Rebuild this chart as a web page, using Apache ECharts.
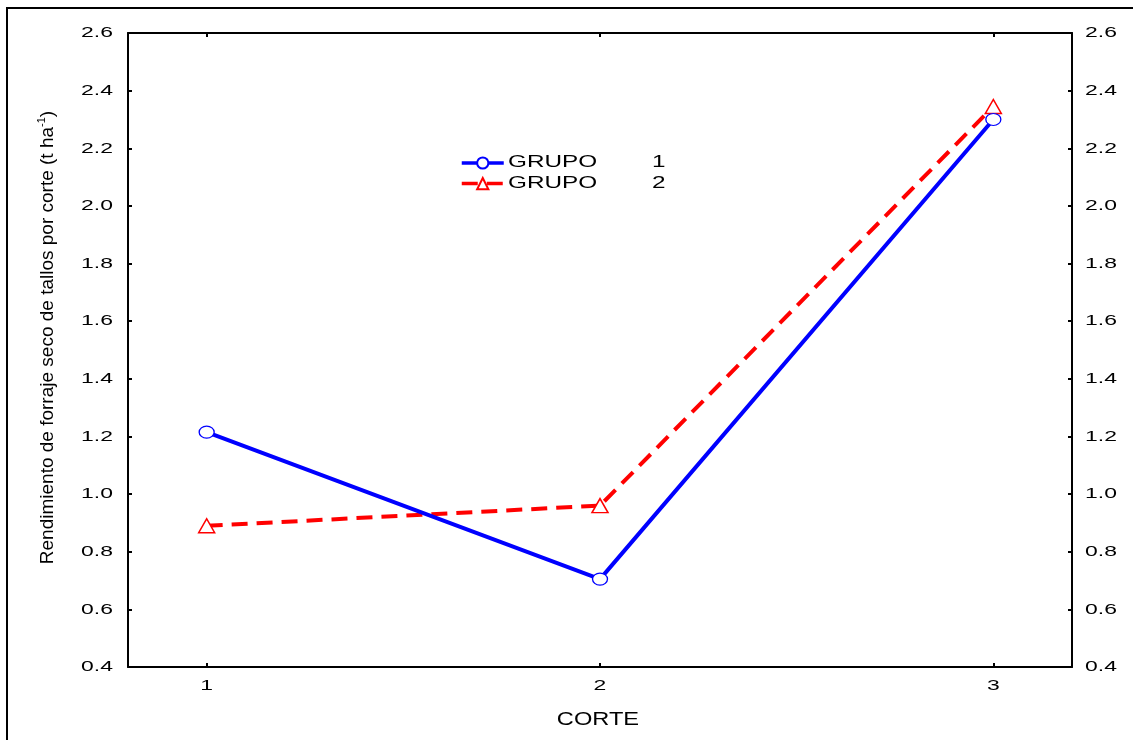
<!DOCTYPE html>
<html>
<head>
<meta charset="utf-8">
<script src="https://cdn.jsdelivr.net/npm/echarts@6/dist/echarts.min.js"></script>
<style>
  html, body { margin: 0; padding: 0; background: #fff; }
  #chart { width: 1133px; height: 740px; }
</style>
</head>
<body>
<div id="chart"></div>
<script>
// data
var cortes = [1, 2, 3];
var grupo1 = [1.215, 0.705, 2.30];
var grupo2 = [0.89, 0.96, 2.345];
var yTicks = [0.4, 0.6, 0.8, 1.0, 1.2, 1.4, 1.6, 1.8, 2.0, 2.2, 2.4, 2.6];
var seriesNames = ['GRUPO 1', 'GRUPO 2'];

function pairs(xs, ys) {
    return xs.map(function (x, i) { return [x, ys[i]]; });
}

var font = 'Liberation Sans, Arial, sans-serif';
var myChart = echarts.init(document.getElementById('chart'));

//shared settings for the x axes (bottom + top), labels are drawn later (stretched text)
function xAx(pos) {
    return {
        type: 'value',
        position: pos,
        min: 0.8,
        max: 3.2,
        axisLine: { show: true, onZero: false, lineStyle: { color: '#000', width: 2 } },
        axisTick: { show: true, inside: true, length: 4, customValues: cortes, lineStyle: { color: '#000', width: 2 } },
        axisLabel: { show: false },
        splitLine: { show: false }
    };
}
function yAx(pos) {
    return {
        type: 'value',
        position: pos,
        min: 0.4,
        max: 2.6,
        interval: 0.2,
        axisLine: { show: true, lineStyle: { color: '#000', width: 2 } },
        axisTick: { show: true, inside: true, length: 4, lineStyle: { color: '#000', width: 2 } },
        axisLabel: { show: false },
        splitLine: { show: false }
    };
}

var yLeft = yAx('left');
yLeft.name = '{a|Rendimiento de forraje seco de tallos por corte (t ha}{s|-1}{a|)}';
yLeft.nameLocation = 'middle';
yLeft.nameGap = 69;
yLeft.nameRotate = 90;
yLeft.nameTextStyle = {
    rich: {
        a: { color: '#000', fontFamily: font, fontSize: 19 },
        s: { color: '#000', fontFamily: font, fontSize: 11, padding: [0, 0, 12, 0] }
    },
    padding: [0, 0, 0, 25]
};

var frame = {
    type: 'rect',
    shape: { x: 7, y: 8, width: 1140, height: 740 },
    style: { fill: 'none', stroke: '#000', lineWidth: 2 },
    silent: true
};

myChart.setOption({
    animation: false,
    graphic: [frame],
    grid: { left: 128, right: 61, top: 33, bottom: 73 },
    legend: {
        left: 455,
        top: 151,
        orient: 'vertical',
        itemWidth: 42,
        itemHeight: 14,
        itemGap: 7,
        lineStyle: { width: 3.5 },
        formatter: function () { return ''; }
    },
    xAxis: [xAx('bottom'), xAx('top')],
    yAxis: [yLeft, yAx('right')],
    series: [
        {
            name: seriesNames[0],
            type: 'line',
            data: pairs(cortes, grupo1),
            symbol: 'circle',
            symbolSize: [15, 12],
            itemStyle: { color: '#fff', borderColor: '#0000ff', borderWidth: 1.2 },
            lineStyle: { color: '#0000ff', width: 4 },
            z: 3
        },
        {
            name: seriesNames[1],
            type: 'line',
            data: pairs(cortes, grupo2),
            symbol: 'triangle',
            symbolSize: [16, 14],
            itemStyle: { color: '#fff', borderColor: '#ff0000', borderWidth: 1.5 },
            lineStyle: { color: '#ff0000', width: 4, type: [16, 9] },
            z: 2
        }
    ]
});

//the original's horizontal text is stretched sideways, so draw it as scaled text
function txt(s, x, y, align, size, sx) {
    return {
        type: 'text', x: x, y: y, scaleX: sx, silent: true,
        style: { text: s, align: align, verticalAlign: 'middle', fill: '#000', font: size + 'px ' + font }
    };
}
var labels = [frame];
yTicks.forEach(function (v) {
    var py = myChart.convertToPixel({ yAxisIndex: 0 }, v);
    labels.push(txt(v.toFixed(1), 113, py, 'right', 15.5, 1.48));
    labels.push(txt(v.toFixed(1), 1085, py, 'left', 15.5, 1.48));
});
cortes.forEach(function (c) {
    var px = myChart.convertToPixel({ xAxisIndex: 0 }, c);
    labels.push(txt(String(c), px, 686, 'center', 15.5, 1.48));
});
labels.push(txt('CORTE', 598, 720, 'center', 17.5, 1.35));
seriesNames.forEach(function (n, i) {
    var parts = n.split(' ');
    labels.push(txt(parts[0], 508, 162 + i * 21, 'left', 17, 1.43));
    labels.push(txt(parts[1], 652, 162 + i * 21, 'left', 17, 1.43));
});
myChart.setOption({ graphic: labels });
</script>
</body>
</html>
